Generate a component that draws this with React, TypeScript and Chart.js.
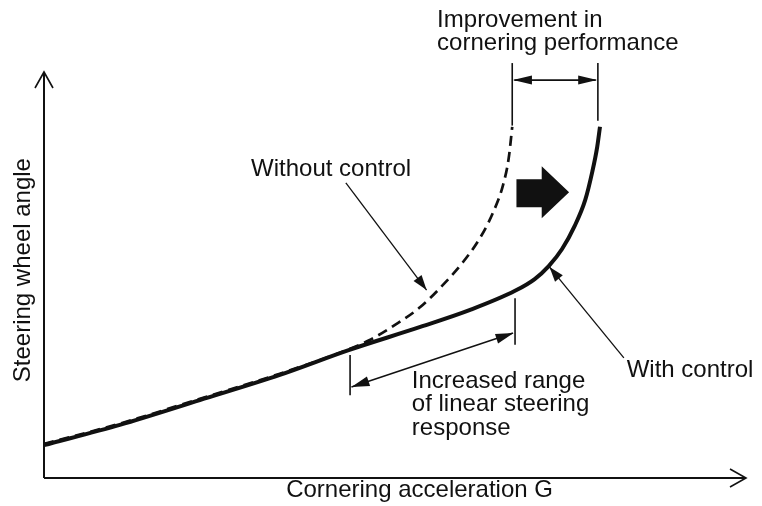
import React, { useEffect, useRef } from "react";
import { Chart, registerables } from "chart.js";
Chart.register(...registerables);

// Cornering acceleration G (relative units 0..100) and steering wheel angle (relative units 0..100)
const accelWithControl = [0, 10.8, 22.2, 33.6, 43.4, 53.6, 60.7, 67.1, 69.9, 71.9, 73.8, 75.6, 77.1, 78.1, 78.8, 79.2];
const angleWithControl = [8.1, 13.1, 19.2, 25.4, 31.5, 37.2, 41.4, 46.1, 49.0, 52.2, 56.4, 62.1, 68.5, 75.4, 81.5, 86.5];
const accelWithoutControl = [0, 10.8, 22.2, 33.6, 43.4, 46.4, 50.0, 53.6, 56.8, 59.7, 62.1, 64.0, 65.4, 66.2, 66.7];
const angleWithoutControl = [8.4, 13.4, 19.5, 25.7, 31.7, 34.0, 37.7, 42.1, 47.5, 53.2, 59.1, 65.5, 72.2, 78.8, 86.5];

const xAxisTitle = "Cornering acceleration G";
const yAxisTitle = "Steering wheel angle";
const labelWithout = "Without control";
const labelWith = "With control";
const improvementLines = ["Improvement in", "cornering performance"];
const linearRangeLines = ["Increased range", "of linear steering", "response"];

const FONT = '24px "Liberation Sans", Arial, sans-serif';
const INK = "#111";

const decorPlugin = {
  id: "decor",
  afterDatasetsDraw(chart: any) {
    const ctx = chart.ctx as CanvasRenderingContext2D;
    const xs = chart.scales.x;
    const ys = chart.scales.y;
    const X = (v: number) => xs.getPixelForValue(v);
    const Y = (v: number) => ys.getPixelForValue(v);
    ctx.save();
    ctx.strokeStyle = INK;
    ctx.fillStyle = INK;
    ctx.lineCap = "butt";

    const line = (x1: number, y1: number, x2: number, y2: number, w: number) => {
      ctx.beginPath();
      ctx.lineWidth = w;
      ctx.moveTo(X(x1), Y(y1));
      ctx.lineTo(X(x2), Y(y2));
      ctx.stroke();
    };
    const head = (fx: number, fy: number, tx: number, ty: number, len: number, half: number) => {
      const x1 = X(fx), y1 = Y(fy), x2 = X(tx), y2 = Y(ty);
      const a = Math.atan2(y2 - y1, x2 - x1);
      const bx = x2 - len * Math.cos(a), by = y2 - len * Math.sin(a);
      ctx.beginPath();
      ctx.moveTo(x2, y2);
      ctx.lineTo(bx + half * Math.sin(a), by - half * Math.cos(a));
      ctx.lineTo(bx - half * Math.sin(a), by + half * Math.cos(a));
      ctx.closePath();
      ctx.fill();
    };
    const openHead = (fx: number, fy: number, tx: number, ty: number, len: number, half: number) => {
      const x1 = X(fx), y1 = Y(fy), x2 = X(tx), y2 = Y(ty);
      const a = Math.atan2(y2 - y1, x2 - x1);
      const bx = x2 - len * Math.cos(a), by = y2 - len * Math.sin(a);
      ctx.beginPath();
      ctx.lineWidth = 1.6;
      ctx.moveTo(bx + half * Math.sin(a), by - half * Math.cos(a));
      ctx.lineTo(x2, y2);
      ctx.lineTo(bx - half * Math.sin(a), by + half * Math.cos(a));
      ctx.stroke();
    };

    // axes
    line(0, 0, 100, 0, 2);
    line(0, 0, 0, 100, 2);
    openHead(0, 0, 100, 0, 16, 9);
    openHead(0, 0, 0, 100, 16, 9);

    // top dimension (improvement)
    line(66.7, 86.8, 66.7, 102.2, 1.6);
    line(78.9, 88.0, 78.9, 102.2, 1.6);
    line(67.0, 98.0, 78.6, 98.0, 1.6);
    head(72.8, 98.0, 66.8, 98.0, 19, 4.5);
    head(72.8, 98.0, 78.8, 98.0, 19, 4.5);

    // lower dimension (linear range)
    line(67.1, 32.8, 67.1, 44.3, 1.6);
    line(43.6, 20.4, 43.6, 30.3, 1.6);
    line(43.8, 22.4, 66.8, 35.7, 1.5);
    head(55, 29, 43.8, 22.4, 18, 5);
    head(55, 29, 66.9, 35.7, 18, 5);

    // leaders
    line(43.0, 72.7, 54.5, 46.3, 1.3);
    head(43.0, 72.7, 54.5, 46.3, 15, 5);
    line(82.6, 29.6, 72.0, 52.0, 1.3);
    head(82.6, 29.6, 72.0, 52.0, 15, 5);

    // big shift arrow
    ctx.beginPath();
    ctx.moveTo(X(67.3), Y(66.7));
    ctx.lineTo(X(70.9), Y(66.7));
    ctx.lineTo(X(70.9), Y(64.0));
    ctx.lineTo(X(74.8), Y(70.4));
    ctx.lineTo(X(70.9), Y(76.8));
    ctx.lineTo(X(70.9), Y(73.6));
    ctx.lineTo(X(67.3), Y(73.6));
    ctx.closePath();
    ctx.fill();

    // texts
    ctx.font = FONT;
    ctx.textBaseline = "alphabetic";
    ctx.textAlign = "left";
    improvementLines.forEach((t, i) => ctx.fillText(t, X(56.0), Y(111.1) + i * 23));
    ctx.fillText(labelWithout, X(29.5), Y(74.4));
    ctx.fillText(labelWith, X(83.0), Y(24.9));
    linearRangeLines.forEach((t, i) => ctx.fillText(t, X(52.4), Y(22.2) + i * 23.5));

    ctx.textAlign = "center";
    ctx.fillText(xAxisTitle, X(53.5), Y(-4.7));
    ctx.save();
    ctx.translate(X(-3.0), Y(51.2));
    ctx.rotate(-Math.PI / 2);
    ctx.textBaseline = "middle";
    ctx.fillText(yAxisTitle, 0, 0);
    ctx.restore();

    ctx.restore();
  },
};

export default function App() {
  const ref = useRef<HTMLCanvasElement | null>(null);
  useEffect(() => {
    if (!ref.current) return;
    const chart = new Chart(ref.current, {
      type: "line",
      data: {
        datasets: [
          {
            label: labelWith,
            data: accelWithControl.map((x, i) => ({ x, y: angleWithControl[i] })),
            borderColor: INK,
            borderWidth: 4,
            pointRadius: 0,
            cubicInterpolationMode: "monotone",
            fill: false,
            order: 0,
          },
          {
            label: labelWithout,
            data: accelWithoutControl.map((x, i) => ({ x, y: angleWithoutControl[i] })),
            borderColor: INK,
            borderWidth: 2.7,
            borderDash: [10, 6],
            pointRadius: 0,
            cubicInterpolationMode: "monotone",
            fill: false,
            order: 1,
          },
        ],
      },
      options: {
        animation: false,
        responsive: false,
        layout: { padding: { left: 44, right: 16, top: 72, bottom: 28 } },
        plugins: { legend: { display: false }, tooltip: { enabled: false }, title: { display: false } },
        scales: {
          x: { type: "linear", min: 0, max: 100, display: false },
          y: { type: "linear", min: 0, max: 100, display: false },
        },
      },
      plugins: [decorPlugin],
    });
    return () => chart.destroy();
  }, []);
  return (
    <div style={{ position: "fixed", left: 0, top: 0, width: 762, height: 506, background: "#fff" }}>
      <canvas ref={ref} width={762} height={506} />
    </div>
  );
}
